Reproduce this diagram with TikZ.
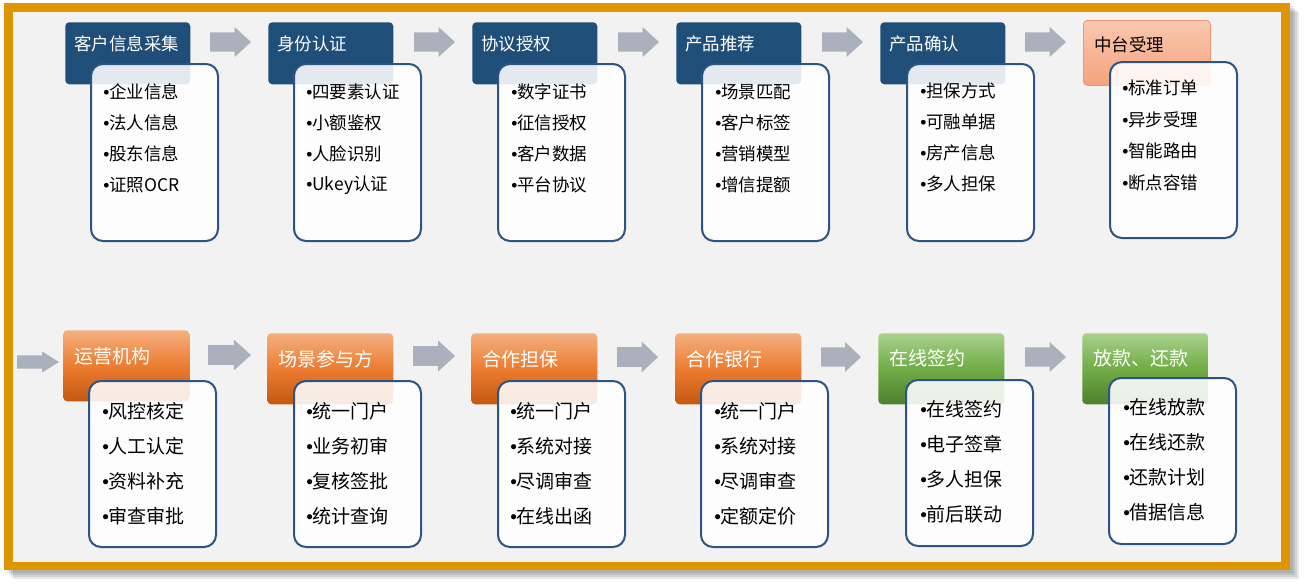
\documentclass[tikz,border=0pt]{standalone}
\usepackage{fontspec}
\setmainfont{Noto Sans CJK SC}
\newfontfamily\bulletfont{Liberation Sans}
\definecolor{frameorange}{RGB}{222,150,0}
\definecolor{bggray}{RGB}{242,242,242}
\definecolor{hblue}{RGB}{31,78,121}
\definecolor{bodyblue}{RGB}{44,84,132}
\definecolor{arrowgray}{RGB}{170,177,189}
\definecolor{salmonA}{RGB}{249,200,176}
\definecolor{salmonB}{RGB}{245,162,125}
\definecolor{salmonD}{RGB}{240,150,110}
\definecolor{orA}{RGB}{244,176,128}
\definecolor{orB}{RGB}{236,124,48}
\definecolor{orC}{RGB}{196,88,18}
\definecolor{grA}{RGB}{168,210,140}
\definecolor{grB}{RGB}{112,172,70}
\definecolor{grC}{RGB}{78,128,48}
\newcommand\blockarrow[4]{%
  \fill[arrowgray] (#1,{#3-0.32*#4}) -- ({#1+0.6*#2},{#3-0.32*#4}) -- ({#1+0.6*#2},{#3-0.5*#4})
   -- ({#1+#2},#3) -- ({#1+0.6*#2},{#3+0.5*#4}) -- ({#1+0.6*#2},{#3+0.32*#4}) -- (#1,{#3+0.32*#4}) -- cycle;}
\tikzset{
  hdr/.style={rectangle, rounded corners=3pt, inner sep=0pt, anchor=north west},
  hdrtop/.style={hdr, minimum width=93.75pt, minimum height=46.5pt},
  hdrbot/.style={hdr, minimum width=94.5pt, minimum height=53.25pt},
  blueh/.style={fill=hblue},
  salmonh/.style={top color=salmonA, bottom color=salmonB, draw=salmonD, line width=0.6pt},
  orangeh/.style={top color=orA, bottom color=orC, middle color=orB},
  greenh/.style={top color=grA, bottom color=grC, middle color=grB},
  bodybox/.style={draw=bodyblue, line width=1.5pt, fill=white, fill opacity=0.88, rounded corners=9pt, inner sep=0pt, anchor=north west, minimum width=95.25pt},
  bodytop/.style={bodybox, minimum height=132.75pt},
  bodybot/.style={bodybox, minimum height=124.5pt},
  htexttop/.style={anchor=west, inner sep=0pt, text=white, font=\fontsize{13.1}{15}\selectfont},
  htextbot/.style={anchor=west, inner sep=0pt, text=white, font=\fontsize{14.25}{16}\selectfont},
  itemtop/.style={anchor=west, inner sep=0pt, text=black, font=\fontsize{13.1}{15}\selectfont},
  itembot/.style={anchor=west, inner sep=0pt, text=black, font=\fontsize{14.25}{16}\selectfont},
}
\newcommand\bul{{\bulletfont •}}
\begin{document}
\begin{tikzpicture}[x=0.75pt,y=-0.75pt]
\useasboundingbox (0,0) rectangle (1307,587);
% frame shadow
\foreach \o in {3,5,7,9} \fill[black,opacity=0.09] (4+\o,3+\o) rectangle (1290+\o,570+\o);
\fill[frameorange] (4,3) rectangle (1290,570);
\fill[bggray] (13,12) rectangle (1281,562);

% ---------- top row ----------
\node[hdrtop,blueh] (h1) at (65,22) {};
\node[hdrtop,blueh] (h2) at (268,22) {};
\node[hdrtop,blueh] (h3) at (472,22) {};
\node[hdrtop,blueh] (h4) at (676,22) {};
\node[hdrtop,blueh] (h5) at (880,22) {};
\node[hdrtop,salmonh,minimum height=48.75pt,minimum width=95.25pt] (h6) at (1083,20) {};
\node[htexttop] (h1t) at (74,44) {客户信息采集};
\node[htexttop] (h2t) at (277,44) {身份认证};
\node[htexttop] (h3t) at (481,44) {协议授权};
\node[htexttop] (h4t) at (685,44) {产品推荐};
\node[htexttop] (h5t) at (889,44) {产品确认};
\node[htexttop,text=black] (h6t) at (1094,45) {中台受理};

\node[bodytop] (b1) at (90,63) {};
\node[bodytop] (b2) at (293,63) {};
\node[bodytop] (b3) at (497,63) {};
\node[bodytop] (b4) at (701,63) {};
\node[bodytop] (b5) at (906,63) {};
\node[bodybox,minimum height=132pt] (b6) at (1109,61) {};

\foreach \t [count=\i] in {企业信息,法人信息,股东信息,证照OCR}
  \node[itemtop] (b1i\i) at (103,{92+31*(\i-1)}) {\bul\t};
\foreach \t [count=\i] in {四要素认证,小额鉴权,人脸识别,Ukey认证}
  \node[itemtop] (b2i\i) at (306,{92+31*(\i-1)}) {\bul\t};
\foreach \t [count=\i] in {数字证书,征信授权,客户数据,平台协议}
  \node[itemtop] (b3i\i) at (511,{92+31*(\i-1)}) {\bul\t};
\foreach \t [count=\i] in {场景匹配,客户标签,营销模型,增信提额}
  \node[itemtop] (b4i\i) at (715,{92+31*(\i-1)}) {\bul\t};
\foreach \t [count=\i] in {担保方式,可融单据,房产信息,多人担保}
  \node[itemtop] (b5i\i) at (920,{91+31*(\i-1)}) {\bul\t};
\foreach \t [count=\i] in {标准订单,异步受理,智能路由,断点容错}
  \node[itemtop] (b6i\i) at (1122,{88+31.5*(\i-1)}) {\bul\t};

\blockarrow{210}{41}{42}{30}
\blockarrow{414}{41}{42}{30}
\blockarrow{618}{41}{42}{30}
\blockarrow{822}{41}{42}{30}
\blockarrow{1025}{41}{42}{30}

% ---------- bottom row ----------
\node[hdrbot,orangeh] (g1) at (63,330) {};
\node[hdrbot,orangeh] (g2) at (267,333) {};
\node[hdrbot,orangeh] (g3) at (471,333) {};
\node[hdrbot,orangeh] (g4) at (675,333) {};
\node[hdrbot,greenh] (g5) at (878,333) {};
\node[hdrbot,greenh] (g6) at (1082,333) {};
\node[htextbot] (g1t) at (74,356) {运营机构};
\node[htextbot] (g2t) at (278,359) {场景参与方};
\node[htextbot] (g3t) at (482,359) {合作担保};
\node[htextbot] (g4t) at (686,359) {合作银行};
\node[htextbot] (g5t) at (889,358) {在线签约};
\node[htextbot] (g6t) at (1093,358) {放款、还款};

\node[bodybot] (c1) at (88,380) {};
\node[bodybot] (c2) at (293,380) {};
\node[bodybot] (c3) at (497,380) {};
\node[bodybot] (c4) at (700,380) {};
\node[bodybot] (c5) at (905,379) {};
\node[bodybot] (c6) at (1108,377) {};

\foreach \t [count=\i] in {风控核定,人工认定,资料补充,审查审批}
  \node[itembot] (c1i\i) at (102,{411+35*(\i-1)}) {\bul\t};
\foreach \t [count=\i] in {统一门户,业务初审,复核签批,统计查询}
  \node[itembot] (c2i\i) at (306,{411+35*(\i-1)}) {\bul\t};
\foreach \t [count=\i] in {统一门户,系统对接,尽调审查,在线出函}
  \node[itembot] (c3i\i) at (510,{411+35*(\i-1)}) {\bul\t};
\foreach \t [count=\i] in {统一门户,系统对接,尽调审查,定额定价}
  \node[itembot] (c4i\i) at (714,{411+35*(\i-1)}) {\bul\t};
\foreach \t [count=\i] in {在线签约,电子签章,多人担保,前后联动}
  \node[itembot] (c5i\i) at (920,{409+35*(\i-1)}) {\bul\t};
\foreach \t [count=\i] in {在线放款,在线还款,还款计划,借据信息}
  \node[itembot] (c6i\i) at (1123,{407+35*(\i-1)}) {\bul\t};

\blockarrow{17}{42}{362}{21}
\blockarrow{208}{43}{355}{31}
\blockarrow{413}{42}{356}{31}
\blockarrow{617}{41}{357}{31}
\blockarrow{821}{40}{357}{30}
\blockarrow{1025}{41}{357}{30}
\end{tikzpicture}
\end{document}
